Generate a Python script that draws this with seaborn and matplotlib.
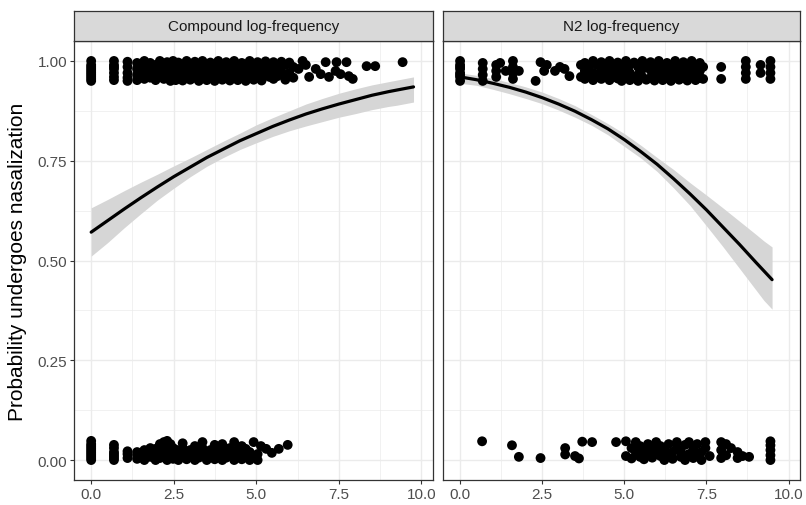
import matplotlib
matplotlib.use("Agg")
import matplotlib.pyplot as plt
import seaborn as sns
import pandas as pd
import numpy as np

# ---------------- data ----------------
panels = ["Compound log-frequency", "N2 log-frequency"]
x_ticks = [0.0, 2.5, 5.0, 7.5, 10.0]
x_tick_labels = ["0.0", "2.5", "5.0", "7.5", "10.0"]
y_ticks = [0.0, 0.25, 0.5, 0.75, 1.0]
y_tick_labels = ["0.00", "0.25", "0.50", "0.75", "1.00"]
y_label = "Probability undergoes nasalization"

# jittered observations: (log-frequency, [jittered outcome values])
compound_yes = [
    (0.00, [1.00, .99, .98, .97, .96, .95, .985, .965, .975, .955]),
    (0.69, [1.00, .99, .98, .97, .96, .952, .985]),
    (1.10, [.998, .985, .97, .958, .95]),
    (1.39, [.995, .98, .965, .952]),
    (1.61, [1.0, .985, .97, .955]),
    (1.79, [.995, .975, .958]),
    (1.95, [.99, .97, .952]),
    (2.08, [1.0, .98, .96]),
    (2.20, [.99, .972, .955]),
    (2.30, [.997, .978, .96]),
    (2.40, [.985, .965, .95]),
    (2.48, [1.0, .98, .958]),
    (2.56, [.99, .97, .952]),
    (2.64, [.996, .975, .956]),
    (2.77, [.988, .968, .951]),
    (2.89, [1.0, .98, .96]),
    (3.00, [.992, .972, .953]),
    (3.14, [.998, .978, .958]),
    (3.26, [.986, .966, .95]),
    (3.37, [1.0, .98, .96]),
    (3.50, [.99, .97, .952]),
    (3.61, [.996, .976, .957]),
    (3.74, [.985, .965, .95]),
    (3.85, [1.0, .98, .96]),
    (3.97, [.99, .97, .953]),
    (4.09, [.997, .977, .958]),
    (4.20, [.986, .966, .951]),
    (4.33, [1.0, .98, .96]),
    (4.44, [.99, .97, .952]),
    (4.56, [.995, .975, .957]),
    (4.68, [.985, .965, .95]),
    (4.80, [1.0, .98, .96]),
    (4.92, [.99, .97, .953]),
    (5.04, [.997, .977, .958]),
    (5.16, [.986, .966, .951]),
    (5.28, [.999, .979]),
    (5.40, [.99, .96]),
    (5.52, [.997, .975, .955]),
    (5.64, [.985, .962]),
    (5.76, [.998, .972]),
    (5.88, [.99, .953]),
    (6.00, [.996, .97]),
    (6.12, [.985, .958]),
    (6.28, [.98]),
    (6.40, [1.0]),
    (6.50, [.99]),
    (6.60, [.96]),
    (6.80, [.98]),
    (6.95, [.967]),
    (7.10, [.997]),
    (7.20, [.96]),
    (7.40, [.975]),
    (7.43, [.997]),
    (7.55, [.967]),
    (7.73, [.997]),
    (7.80, [.962]),
    (7.92, [.955]),
    (8.34, [.987]),
    (8.60, [.987]),
    (9.43, [.997]),
]

compound_no = [
    (0.00, [.0, .01, .02, .03, .04, .048, .005, .015, .025, .035]),
    (0.69, [.0, .01, .02, .03, .038, .005, .015]),
    (1.10, [.005, .015, .022]),
    (1.39, [.003, .012, .02]),
    (1.61, [.0, .01, .025]),
    (1.79, [.008, .018, .03]),
    (1.95, [.0, .015, .028]),
    (2.08, [.005, .02, .04]),
    (2.20, [.01, .025, .045]),
    (2.30, [.0, .018, .035, .048]),
    (2.40, [.008, .022, .04]),
    (2.48, [.003, .015, .03]),
    (2.56, [.012, .026]),
    (2.64, [.0, .02]),
    (2.77, [.008, .03, .042]),
    (2.89, [.002, .016]),
    (3.00, [.01, .025]),
    (3.14, [.0, .018, .035]),
    (3.26, [.006, .022]),
    (3.37, [.012, .03, .045]),
    (3.50, [.0, .015]),
    (3.61, [.008, .025]),
    (3.74, [.002, .02, .038]),
    (3.85, [.01, .028]),
    (3.97, [.0, .015, .04]),
    (4.09, [.006, .022]),
    (4.20, [.012, .03]),
    (4.33, [.0, .018, .045]),
    (4.44, [.008, .025]),
    (4.56, [.002, .015, .035]),
    (4.68, [.01, .028]),
    (4.80, [.0, .02]),
    (4.92, [.008, .045]),
    (5.04, [.0, .015]),
    (5.14, [.035]),
    (5.30, [.028]),
    (5.47, [.018]),
    (5.68, [.028]),
    (5.95, [.038]),
]

n2_yes = [
    (0.00, [1.0, .99, .98, .97, .96, .95, .985, .965]),
    (0.69, [.995, .98, .965, .95]),
    (1.10, [.99, .975, .96]),
    (1.22, [.995]),
    (1.39, [.975]),
    (1.61, [1.0, .985, .97, .955]),
    (1.79, [.975]),
    (2.30, [.95]),
    (2.45, [.997]),
    (2.56, [.975]),
    (2.64, [.99]),
    (2.89, [.975]),
    (3.04, [.985]),
    (3.18, [.98]),
    (3.33, [.962]),
    (3.68, [.99, .96]),
    (3.80, [.995, .975, .955]),
    (3.92, [.985, .962]),
    (4.05, [1.0, .97, .952]),
    (4.17, [.99, .96]),
    (4.30, [.997, .977, .955]),
    (4.42, [.985, .965]),
    (4.55, [1.0, .975, .952]),
    (4.67, [.99, .96]),
    (4.80, [.996, .976, .956]),
    (4.92, [.985, .965, .95]),
    (5.05, [1.0, .98, .96]),
    (5.17, [.99, .97, .952]),
    (5.30, [.996, .957]),
    (5.42, [.985, .965, .95]),
    (5.55, [1.0, .98, .96]),
    (5.67, [.99, .953]),
    (5.80, [.997, .977, .958]),
    (5.92, [.986, .966, .951]),
    (6.05, [1.0, .98, .96]),
    (6.17, [.99, .97, .952]),
    (6.30, [.995, .975, .957]),
    (6.42, [.985, .965, .95]),
    (6.55, [1.0, .98, .96]),
    (6.67, [.99, .97, .953]),
    (6.80, [.997, .977, .958]),
    (6.92, [.986, .966, .951]),
    (7.05, [1.0, .98, .96]),
    (7.17, [.99, .97, .952]),
    (7.30, [.995, .975, .957]),
    (7.40, [.985, .955]),
    (7.95, [.985, .955]),
    (8.70, [1.0, .985, .97, .955]),
    (9.15, [.99, .97]),
    (9.45, [1.0, .985, .97, .955]),
]

n2_no = [
    (0.67, [.047]),
    (1.58, [.037]),
    (1.79, [.008]),
    (2.45, [.005]),
    (3.20, [.03, .014]),
    (3.50, [.01]),
    (3.62, [.004]),
    (3.72, [.046]),
    (4.02, [.045]),
    (4.75, [.045]),
    (5.05, [.047, .01]),
    (5.22, [.03, .004]),
    (5.35, [.02, .045]),
    (5.48, [.008, .035]),
    (5.60, [.025, .002]),
    (5.72, [.04, .015]),
    (5.85, [.006, .03]),
    (5.97, [.045, .02]),
    (6.10, [.01, .035]),
    (6.22, [.0, .025]),
    (6.35, [.04, .012]),
    (6.47, [.02, .003]),
    (6.60, [.045, .03]),
    (6.72, [.008, .022]),
    (6.85, [.038, .0]),
    (6.97, [.015, .045]),
    (7.10, [.028, .005]),
    (7.22, [.04, .012]),
    (7.35, [.02, .0]),
    (7.47, [.045, .03]),
    (7.60, [.01]),
    (7.95, [.045, .025, .005]),
    (8.10, [.04, .012]),
    (8.25, [.03]),
    (8.45, [.02, .005]),
    (8.60, [.01]),
    (8.80, [.008]),
    (9.45, [.0, .012, .025, .037, .047]),
]

# fitted logistic curves with confidence band
compound_fit_x = [0, 0.5, 1, 1.5, 2, 2.5, 3, 3.5, 4, 4.5, 5, 5.5, 6, 6.5,
                  7, 7.5, 8, 8.5, 9, 9.25, 9.76]
compound_fit = [.571, .600, .629, .657, .684, .710, .734, .758, .779, .800,
                .818, .836, .852, .867, .880, .892, .903, .914, .923, .927, .935]
compound_lo = [.511, .545, .582, .617, .651, .681, .710, .736, .758, .778,
               .795, .811, .825, .837, .848, .859, .868, .878, .886, .889, .897]
compound_hi = [.632, .653, .675, .696, .716, .737, .757, .778, .799, .819,
               .840, .858, .875, .892, .906, .919, .930, .940, .948, .952, .960]

n2_fit_x = [0, 0.5, 1, 1.5, 2, 2.5, 3, 3.5, 4, 4.5, 5, 5.5, 6, 6.5,
            7, 7.5, 8, 8.5, 9, 9.25, 9.5]
n2_fit = [.960, .953, .944, .934, .922, .908, .892, .874, .853, .830, .803,
          .773, .741, .705, .667, .627, .584, .541, .496, .474, .452]
n2_lo = [.944, .939, .929, .918, .906, .893, .877, .859, .839, .815, .786,
         .757, .723, .682, .638, .587, .535, .481, .427, .400, .378]
n2_hi = [.970, .964, .956, .946, .935, .922, .906, .888, .866, .843, .818,
         .789, .758, .728, .695, .664, .632, .599, .566, .549, .534]


def expand(cols, panel):
    rows = []
    for x, ys in cols:
        for y in ys:
            rows.append({"panel": panel, "x": x, "y": y})
    return rows


points = pd.DataFrame(
    expand(compound_yes, panels[0]) + expand(compound_no, panels[0])
    + expand(n2_yes, panels[1]) + expand(n2_no, panels[1])
)
fits = pd.DataFrame(
    [{"panel": panels[0], "x": a, "fit": b, "lo": c, "hi": d}
     for a, b, c, d in zip(compound_fit_x, compound_fit, compound_lo, compound_hi)]
    + [{"panel": panels[1], "x": a, "fit": b, "lo": c, "hi": d}
       for a, b, c, d in zip(n2_fit_x, n2_fit, n2_lo, n2_hi)]
)

# ---------------- drawing ----------------
sns.set_style("white")
plt.rcParams["font.family"] = ["Liberation Sans", "DejaVu Sans"]

W, H = 806, 506
fig = plt.figure(figsize=(W / 100, H / 100), dpi=100)
fig.patch.set_facecolor("white")

panel_boxes = [(74, 433), (443, 800)]
top_px, bot_px, strip_top = 42, 481, 12
xlim = (-0.52, 10.35)
ylim = (-0.05, 1.05)
frame_col = "#333333"
grid_col = "#ebebeb"

for i, (panel, (l, r)) in enumerate(zip(panels, panel_boxes)):
    ax = fig.add_axes([l / W, (H - bot_px) / H, (r - l) / W, (bot_px - top_px) / H])
    ax.set_facecolor("white")
    ax.set_xlim(*xlim)
    ax.set_ylim(*ylim)
    # grid
    for gx in [1.25, 3.75, 6.25, 8.75]:
        ax.axvline(gx, color=grid_col, lw=0.5, zorder=0)
    for gy in [0.125, 0.375, 0.625, 0.875]:
        ax.axhline(gy, color=grid_col, lw=0.5, zorder=0)
    for gx in x_ticks:
        ax.axvline(gx, color=grid_col, lw=1.0, zorder=0)
    for gy in y_ticks:
        ax.axhline(gy, color=grid_col, lw=1.0, zorder=0)

    f = fits[fits.panel == panel]
    ax.fill_between(f.x, f.lo, f.hi, color="#d6d6d6", lw=0, zorder=1)
    p = points[points.panel == panel]
    sns.scatterplot(data=p, x="x", y="y", ax=ax, color="black", s=50,
                    linewidth=0, edgecolor="none", zorder=2, legend=False)
    sns.lineplot(data=f, x="x", y="fit", ax=ax, color="black", lw=2.3,
                 zorder=3, legend=False)

    ax.set_xticks(x_ticks)
    ax.set_xticklabels(x_tick_labels)
    ax.set_xlabel("")
    ax.set_ylabel("")
    if i == 0:
        ax.set_yticks(y_ticks)
        ax.set_yticklabels(y_tick_labels)
        ax.tick_params(axis="y", length=3, width=0.8, color=frame_col,
                       labelsize=11, labelcolor="#4d4d4d", pad=2, left=True)
    else:
        ax.set_yticks([])
    ax.tick_params(axis="x", length=3, width=0.8, color=frame_col,
                   labelsize=11, labelcolor="#4d4d4d", pad=2, bottom=True)
    for s in ax.spines.values():
        s.set_visible(True)
        s.set_color(frame_col)
        s.set_linewidth(0.9)

    # facet strip
    sax = fig.add_axes([l / W, (H - top_px) / H, (r - l) / W, (top_px - strip_top) / H])
    sax.set_facecolor("#d9d9d9")
    sax.set_xticks([])
    sax.set_yticks([])
    for s in sax.spines.values():
        s.set_visible(True)
        s.set_color(frame_col)
        s.set_linewidth(0.9)
    sax.text(0.5, 0.5, panel, ha="center", va="center", fontsize=11,
             color="#1a1a1a", transform=sax.transAxes)

fig.text(18 / W, 1 - ((top_px + bot_px) / 2) / H, y_label, rotation=90,
         ha="center", va="center", fontsize=15, color="black")

fig.savefig("out.png", dpi=100)
